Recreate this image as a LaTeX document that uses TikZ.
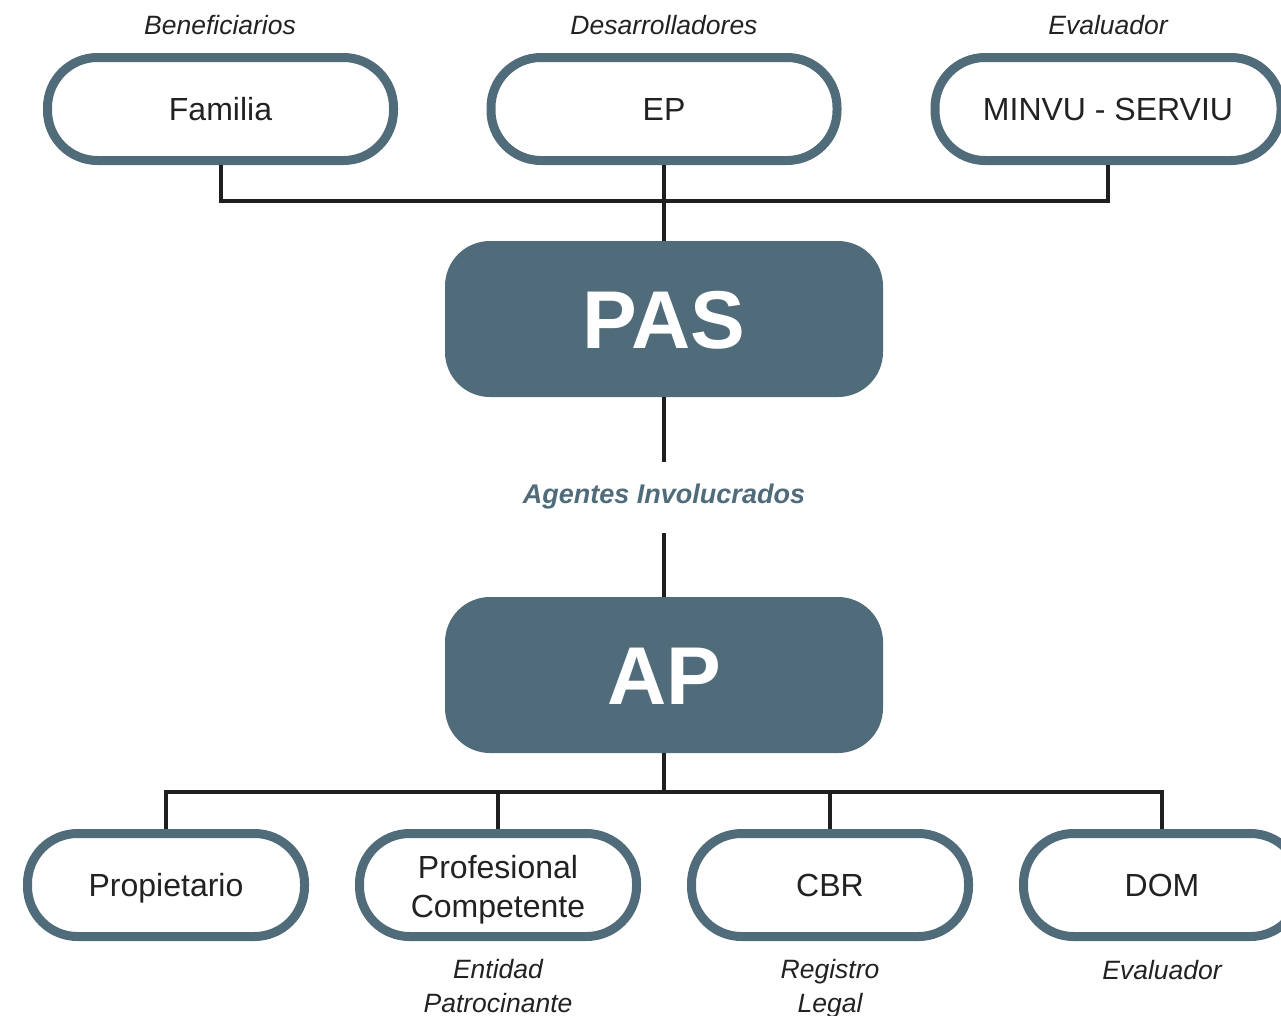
\documentclass[tikz,border=0pt]{standalone}
\usepackage{fontspec}
\setmainfont{Liberation Sans}
\begin{document}
\definecolor{slate}{HTML}{506C7A}
\definecolor{ink}{HTML}{1F1F1F}
\definecolor{txt}{HTML}{222222}
\begin{tikzpicture}[x=1pt,y=-1pt,
  agent/.style={draw=slate, line width=9pt, fill=white, rounded corners=50pt,
    minimum width=346pt, minimum height=103pt, inner sep=0pt, align=center,
    text=txt, font=\fontsize{32}{39}\selectfont,
    text height=23pt, text depth=0pt},
  agentb/.style={agent, minimum width=277pt},
  hub/.style={fill=slate, rounded corners=45pt, minimum width=438pt,
    minimum height=156pt, inner sep=0pt, text=white,
    font=\fontsize{82}{90}\selectfont\bfseries,
    text height=59pt, text depth=0pt},
  role/.style={text=txt, align=center, inner sep=0pt, anchor=base,
    font=\fontsize{26.5}{34}\selectfont\itshape},
  link/.style={draw=ink, line width=4pt},
  mid/.style={text=slate, inner sep=0pt, minimum height=71pt,
    text height=12pt, text depth=0pt,
    font=\fontsize{27}{30}\selectfont\bfseries\itshape}]

\useasboundingbox (0,0) rectangle (1281,1015);

% upper row of agents
\node[agent] (fam) at (220.5,109) {Familia};
\node[agent] (ep) at (664,109) {EP};
\node[agent] (minvu) at (1108,109) {MINVU - SERVIU};
\node[role] (r1) at (220,34) {Beneficiarios};
\node[role] (r2) at (664,34) {Desarrolladores};
\node[role] (r3) at (1108,34) {Evaluador};

% central blocks
\node[hub] (pas) at (664,319) {PAS};
\node[hub] (ap) at (664,675) {AP};
\node[mid] (lab) at (664,497.5) {Agentes Involucrados};

% lower row of agents
\node[agentb] (prop) at (166,885) {Propietario};
\node[agentb, text height=64pt] (prof) at (498,885) {Profesional\\Competente};
\node[agentb] (cbr) at (830,885) {CBR};
\node[agentb] (dom) at (1162,885) {DOM};
\node[role] (r4) at (498,1012) {Entidad\\Patrocinante};
\node[role] (r5) at (830,1012) {Registro\\Legal};
\node[role] (r6) at (1162,979) {Evaluador};

% connectors
\coordinate (topbus) at (664,201);
\coordinate (lowbus) at (664,792);
\draw[link] (fam.south) |- (topbus) -| (minvu.south);
\draw[link] (ep.south) -- (pas.north);
\draw[link] (pas.south) -- (lab.north);
\draw[link] (lab.south) -- (ap.north);
\draw[link] (ap.south) -- (lowbus);
\draw[link] (prop.north) |- (lowbus) -| (dom.north);
\draw[link] (prof.north) -- (prof.north |- lowbus);
\draw[link] (cbr.north) -- (cbr.north |- lowbus);
\end{tikzpicture}
\end{document}
